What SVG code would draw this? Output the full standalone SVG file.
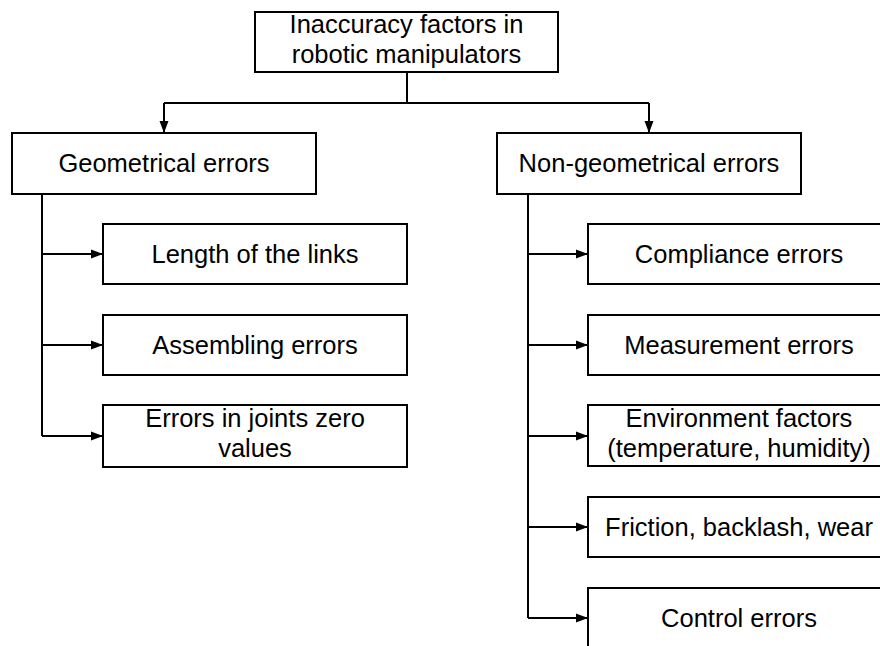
<svg xmlns="http://www.w3.org/2000/svg" width="880" height="646" viewBox="0 0 880 646">
<defs>
<marker id="ah" markerWidth="12" markerHeight="10" refX="12" refY="5" orient="auto" markerUnits="userSpaceOnUse">
<path d="M0,0.5 L12,5 L0,9.5 Z" fill="#000"/>
</marker>
<style>
rect{fill:#fff;stroke:#000;stroke-width:2}
text{font-family:"Liberation Sans",Arial,sans-serif;font-size:25.5px;fill:#000;text-anchor:middle}
.c{fill:none;stroke:#000;stroke-width:2}
</style>
</defs>
<rect x="0" y="0" width="880" height="646" style="stroke:none"/>
<g id="connectors">
<path class="c" d="M407,72 V103"/>
<path class="c" d="M164,103 H649"/>
<path class="c" d="M164,103 V133" marker-end="url(#ah)"/>
<path class="c" d="M649,103 V133" marker-end="url(#ah)"/>
<path class="c" d="M42,194 V436"/>
<path class="c" d="M42,254 H103" marker-end="url(#ah)"/>
<path class="c" d="M42,345 H103" marker-end="url(#ah)"/>
<path class="c" d="M42,436 H103" marker-end="url(#ah)"/>
<path class="c" d="M528,194 V618"/>
<path class="c" d="M528,254 H588" marker-end="url(#ah)"/>
<path class="c" d="M528,345 H588" marker-end="url(#ah)"/>
<path class="c" d="M528,436 H588" marker-end="url(#ah)"/>
<path class="c" d="M528,527 H588" marker-end="url(#ah)"/>
<path class="c" d="M528,618 H588" marker-end="url(#ah)"/>
</g>
<g id="root">
<rect x="255" y="12" width="303" height="60"/>
<text x="406.5" y="33">Inaccuracy factors in</text>
<text x="406.5" y="63">robotic manipulators</text>
</g>
<g id="geometrical">
<rect x="12" y="133" width="304" height="61"/>
<text x="164" y="172">Geometrical errors</text>
</g>
<g id="nongeometrical">
<rect x="497" y="133" width="304" height="61"/>
<text x="649" y="172">Non-geometrical errors</text>
</g>
<g id="length">
<rect x="103" y="224" width="304" height="60"/>
<text x="255" y="263">Length of the links</text>
</g>
<g id="assembling">
<rect x="103" y="315" width="304" height="60"/>
<text x="255" y="354">Assembling errors</text>
</g>
<g id="zero">
<rect x="103" y="405" width="304" height="62"/>
<text x="255" y="427">Errors in joints zero</text>
<text x="255" y="457">values</text>
</g>
<g id="compliance">
<rect x="588" y="224" width="303" height="60"/>
<text x="739" y="263">Compliance errors</text>
</g>
<g id="measurement">
<rect x="588" y="315" width="303" height="60"/>
<text x="739" y="354">Measurement errors</text>
</g>
<g id="environment">
<rect x="588" y="405" width="303" height="61"/>
<text x="739" y="427">Environment factors</text>
<text x="739" y="457">(temperature, humidity)</text>
</g>
<g id="friction">
<rect x="588" y="497" width="303" height="60"/>
<text x="739" y="536">Friction, backlash, wear</text>
</g>
<g id="control">
<rect x="588" y="588" width="303" height="60"/>
<text x="739" y="627">Control errors</text>
</g>
</svg>
